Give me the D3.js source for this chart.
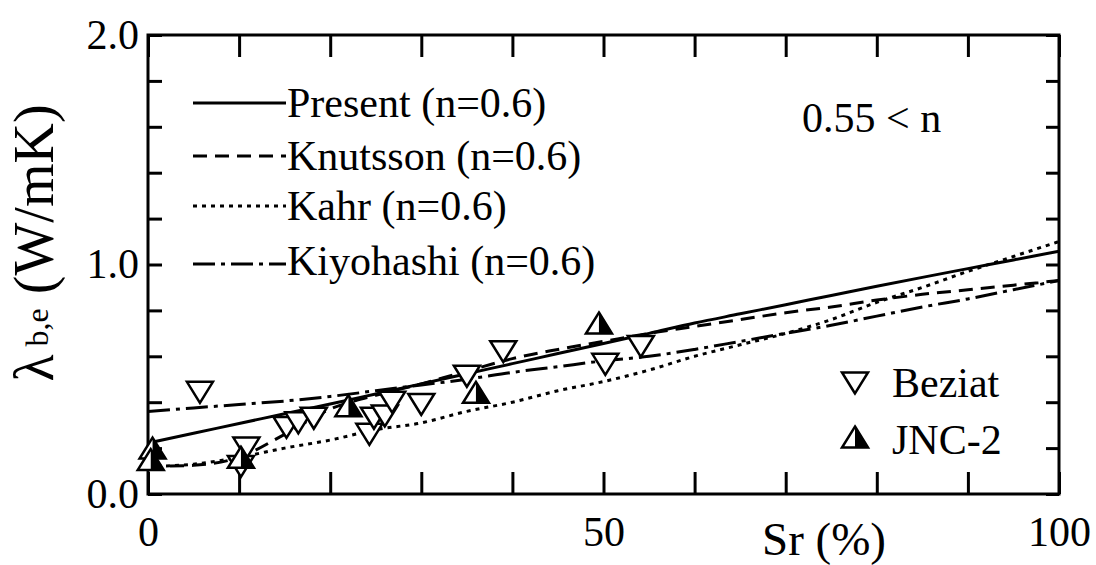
<!doctype html>
<html>
<head>
  <meta charset='utf-8'>
  <style>
    body { margin: 0; background: #fff; }
    text { font-family: 'Liberation Serif', 'Times New Roman', serif; fill: #000; }
    .tick line { stroke: #000; stroke-width: 3; }
    .curve { fill: none; stroke: #000; stroke-width: 3; }
  </style>
</head>
<body>
  <svg width='1096' height='565'></svg>
  <script src='https://d3js.org/d3.v7.min.js'></script>
  <script>
    // values
    var srGrid   = [0, 5, 10, 15, 20, 25, 30, 35, 40, 45, 50, 55, 60, 65, 70, 75, 80, 85, 90, 95, 100];
    var present  = [0.222, 0.265, 0.307, 0.35, 0.392, 0.436, 0.48, 0.524, 0.568, 0.612, 0.656,
                    0.70, 0.745, 0.785, 0.825, 0.865, 0.905, 0.944, 0.982, 1.02, 1.058];
    var knutsson = [0.12, 0.125, 0.16, 0.26, 0.37, 0.43, 0.48, 0.535, 0.59, 0.63, 0.665,
                    0.70, 0.73, 0.76, 0.79, 0.815, 0.845, 0.87, 0.89, 0.91, 0.93];
    var kahr     = [0.12, 0.13, 0.16, 0.20, 0.235, 0.28, 0.31, 0.36, 0.40, 0.45, 0.49,
                    0.54, 0.60, 0.65, 0.70, 0.76, 0.835, 0.90, 0.97, 1.035, 1.10];
    var kiyohashi = [0.36, 0.375, 0.39, 0.405, 0.425, 0.45, 0.475, 0.50, 0.53, 0.555, 0.58,
                     0.60, 0.63, 0.665, 0.70, 0.735, 0.775, 0.815, 0.85, 0.89, 0.93];

    var beziatSr  = [5.7, 10.8, 10.2, 15.2, 16.5, 18.2, 24.3, 24.8, 26.0, 26.8, 30.0, 35.0, 39.0, 50.2, 54.1];
    var beziatLam = [0.443, 0.20, 0.12, 0.29, 0.31, 0.33, 0.26, 0.33, 0.34, 0.40, 0.39, 0.513, 0.62, 0.565, 0.643];
    var jncSr  = [0.5, 0.3, 10.2, 22.0, 36.0, 49.5];
    var jncLam = [0.20, 0.15, 0.16, 0.385, 0.443, 0.745];

    var xTickLabels = [0, 50, 100];
    var yTickLabels = [0, 1, 2];
    var lineNames = ['Present (n=0.6)', 'Knutsson (n=0.6)', 'Kahr (n=0.6)', 'Kiyohashi (n=0.6)'];
    var pointNames = ['Beziat', 'JNC-2'];

    var svg = d3.select('svg');
    var pl = 148, pr = 1059, pt = 35, pb = 494;

    var x = d3.scaleLinear().domain([0, 100]).range([pl, pr]);
    var y = d3.scaleLinear().domain([0, 2]).range([pb, pt]);

    // inward ticks on all four sides
    svg.append('g').attr('transform', 'translate(0,' + pb + ')')
       .call(d3.axisTop(x).ticks(10).tickSize(22).tickFormat(''))
       .call(function(g) { g.select('.domain').remove(); });
    svg.append('g').attr('transform', 'translate(0,' + pt + ')')
       .call(d3.axisBottom(x).ticks(10).tickSize(22).tickFormat(''))
       .call(function(g) { g.select('.domain').remove(); });
    svg.append('g').attr('transform', 'translate(' + pl + ',0)')
       .call(d3.axisRight(y).ticks(10).tickSize(14).tickFormat(''))
       .call(function(g) { g.select('.domain').remove(); });
    svg.append('g').attr('transform', 'translate(' + pr + ',0)')
       .call(d3.axisLeft(y).ticks(10).tickSize(13).tickFormat(''))
       .call(function(g) { g.select('.domain').remove(); });

    // tick labels
    svg.append('g').attr('transform', 'translate(0,' + pb + ')')
       .call(d3.axisBottom(x).tickValues(xTickLabels).tickSize(0).tickPadding(22))
       .call(function(g) { g.select('.domain').remove(); })
       .selectAll('text').attr('font-size', 42).style('font-family', 'Liberation Serif');
    svg.append('g').attr('transform', 'translate(' + pl + ',0)')
       .call(d3.axisLeft(y).tickValues(yTickLabels).tickFormat(d3.format('.1f')).tickSize(0).tickPadding(9))
       .call(function(g) { g.select('.domain').remove(); })
       .selectAll('text').attr('font-size', 42).style('font-family', 'Liberation Serif');

    svg.append('rect')
       .attr('x', pl).attr('y', pt)
       .attr('width', pr - pl).attr('height', pb - pt)
       .attr('fill', 'none').attr('stroke', '#000').attr('stroke-width', 3);

    // curves
    var dashes = [null, '14,8', '4,5', '22,6,4,6'];
    var series = [present, knutsson, kahr, kiyohashi];
    var line = d3.line()
                 .x(function(d, i) { return x(srGrid[i]); })
                 .y(function(d) { return y(d); })
                 .curve(d3.curveMonotoneX);

    series.forEach(function(s, i) {
      svg.append('path')
         .attr('class', 'curve')
         .attr('d', line(s))
         .attr('stroke-dasharray', dashes[i]);
    });

    // triangle markers
    var triW = 26, triH = 21;
    var triUp = {
      draw: function(ctx) {
        ctx.moveTo(0, -triH / 2);
        ctx.lineTo(triW / 2, triH / 2);
        ctx.lineTo(-triW / 2, triH / 2);
        ctx.closePath();
      }
    };
    var halfUp = {
      draw: function(ctx) {
        ctx.moveTo(0, -triH / 2);
        ctx.lineTo(triW / 2, triH / 2);
        ctx.lineTo(0, triH / 2);
        ctx.closePath();
      }
    };
    var triPath = d3.symbol().type(triUp)();
    var halfPath = d3.symbol().type(halfUp)();

    function beziatMark(g) {
      g.append('path').attr('d', triPath)
       .attr('transform', 'rotate(180)')
       .attr('fill', '#fff').attr('stroke', '#000').attr('stroke-width', 2.5);
    }
    function jncMark(g) {
      g.append('path').attr('d', triPath)
       .attr('fill', '#fff').attr('stroke', '#000').attr('stroke-width', 2.5);
      g.append('path').attr('d', halfPath).attr('fill', '#000');
    }

    svg.selectAll('.bez')
       .data(beziatSr)
       .enter().append('g')
       .attr('class', 'bez')
       .attr('transform', function(d, i) {
         return 'translate(' + x(d) + ',' + y(beziatLam[i]) + ')';
       })
       .each(function() { beziatMark(d3.select(this)); });

    svg.selectAll('.jnc')
       .data(jncSr)
       .enter().append('g')
       .attr('class', 'jnc')
       .attr('transform', function(d, i) {
         return 'translate(' + x(d) + ',' + y(jncLam[i]) + ')';
       })
       .each(function() { jncMark(d3.select(this)); });

    // line legend
    var legLineY = [103, 156, 206, 264];
    var legTextY = [117, 170, 220, 275];
    lineNames.forEach(function(name, i) {
      svg.append('line')
         .attr('class', 'curve')
         .attr('x1', 193).attr('x2', 286)
         .attr('y1', legLineY[i]).attr('y2', legLineY[i])
         .attr('stroke-dasharray', dashes[i]);
      svg.append('text')
         .attr('x', 287).attr('y', legTextY[i])
         .attr('font-size', 42)
         .text(name);
    });

    svg.append('text')
       .attr('x', 802).attr('y', 132)
       .attr('font-size', 42)
       .text('0.55 < n');

    // point legend
    var bl = svg.append('g').attr('transform', 'translate(855,383)');
    beziatMark(bl);
    svg.append('text').attr('x', 892).attr('y', 397).attr('font-size', 42).text(pointNames[0]);
    var jl = svg.append('g').attr('transform', 'translate(855,437)');
    jncMark(jl);
    svg.append('text').attr('x', 892).attr('y', 454).attr('font-size', 42).text(pointNames[1]);

    // axis titles
    svg.append('text')
       .attr('x', 762).attr('y', 555)
       .attr('font-size', 47)
       .text('Sr (%)');

    var yt = svg.append('text')
       .attr('transform', 'translate(53,243) rotate(-90)')
       .attr('text-anchor', 'middle');
    yt.append('tspan').attr('font-size', 56).text('\u03bb');
    yt.append('tspan').attr('font-size', 32).attr('dy', -5).text(' b,e');
    yt.append('tspan').attr('font-size', 56).attr('dy', 5).text(' (W/mK)');
  </script>
</body>
</html>
